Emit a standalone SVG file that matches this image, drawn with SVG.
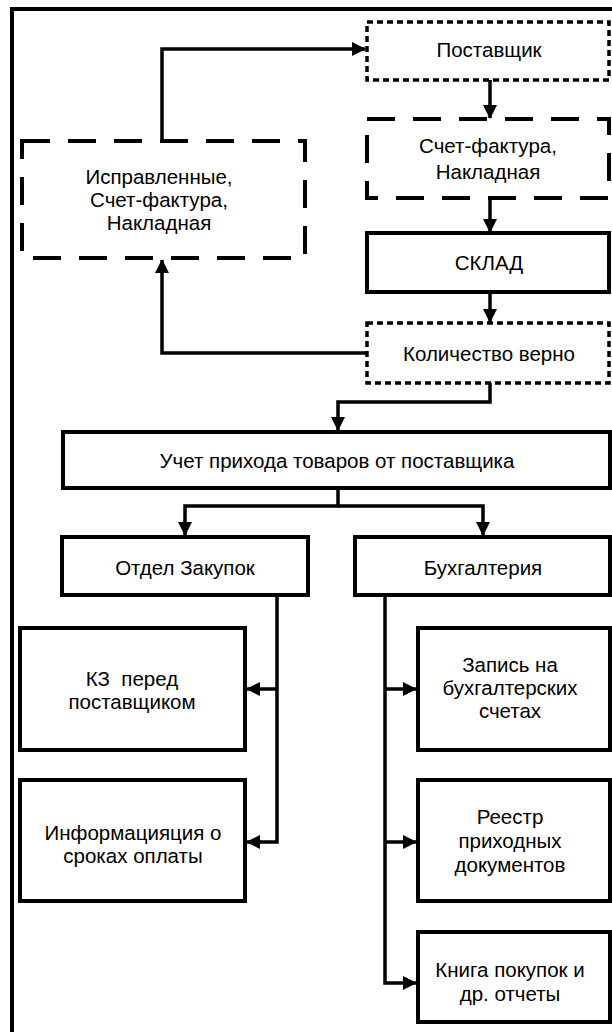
<svg xmlns="http://www.w3.org/2000/svg" width="612" height="1032" viewBox="0 0 612 1032">
<style>
text{font-family:"Liberation Sans",Arial,sans-serif;font-size:20.5px;fill:#000;text-anchor:middle;dominant-baseline:central}
.box{fill:#fff;stroke:#000;stroke-width:4}
.dot{fill:#fff;stroke:#000;stroke-width:3.5;stroke-dasharray:6 4}
.dash{fill:#fff;stroke:#000;stroke-width:4;stroke-dasharray:28 18}
.c{fill:none;stroke:#000;stroke-width:3.5}
</style>
<defs>
<marker id="ah" markerUnits="userSpaceOnUse" markerWidth="14" markerHeight="14" refX="13" refY="7" orient="auto" viewBox="0 0 14 14">
<path d="M0,0 L14,7 L0,14 z" fill="#000"/>
</marker>
</defs>
<rect width="612" height="1032" fill="#fff"/>
<path d="M12,1040 V9 H620" fill="none" stroke="#000" stroke-width="4"/>
<g id="connectors">
<path class="c" d="M162,141 V49 H365" marker-end="url(#ah)"/>
<path class="c" d="M490,80 V118" marker-end="url(#ah)"/>
<path class="c" d="M490,198 V232" marker-end="url(#ah)"/>
<path class="c" d="M490,292 V322" marker-end="url(#ah)"/>
<path class="c" d="M367,353 H162 V260" marker-end="url(#ah)"/>
<path class="c" d="M490,383 V402 H338 V430" marker-end="url(#ah)"/>
<path class="c" d="M338,488 V506 H185 V535" marker-end="url(#ah)"/>
<path class="c" d="M338,506 H483 V535" marker-end="url(#ah)"/>
<path class="c" d="M277,595 V842 H247" marker-end="url(#ah)"/>
<path class="c" d="M277,689 H247" marker-end="url(#ah)"/>
<path class="c" d="M385,595 V983 H416" marker-end="url(#ah)"/>
<path class="c" d="M385,689 H416" marker-end="url(#ah)"/>
<path class="c" d="M385,842 H416" marker-end="url(#ah)"/>
</g>
<g id="postavshik"><rect class="dot" x="367" y="22" width="242" height="58"/><text x="489" y="49">Поставщик</text></g>
<g id="schet"><rect class="dash" x="367" y="119" width="242" height="79"/><text x="488" y="145">Счет-фактура,</text><text x="488" y="171">Накладная</text></g>
<g id="ispravlennye"><rect class="dash" x="22" y="141" width="283" height="117"/><text x="159" y="176">Исправленные,</text><text x="159" y="199">Счет-фактура,</text><text x="159" y="222">Накладная</text></g>
<g id="sklad"><rect class="box" x="367" y="233" width="242" height="59"/><text x="489" y="262">СКЛАД</text></g>
<g id="kolichestvo"><rect class="dot" x="367" y="323" width="242" height="60"/><text x="489" y="353">Количество верно</text></g>
<g id="uchet"><rect class="box" x="63" y="432" width="547" height="56"/><text x="337" y="460">Учет прихода товаров от поставщика</text></g>
<g id="otdel"><rect class="box" x="62" y="537" width="246" height="58"/><text x="185" y="567">Отдел Закупок</text></g>
<g id="buh"><rect class="box" x="355" y="537" width="255" height="58"/><text x="483" y="567">Бухгалтерия</text></g>
<g id="kz"><rect class="box" x="20" y="628" width="225" height="122"/><text x="132" y="678" xml:space="preserve">КЗ  перед</text><text x="132" y="701">поставщиком</text></g>
<g id="info"><rect class="box" x="20" y="780" width="225" height="121"/><text x="133" y="832">Информацияция о</text><text x="133" y="855">сроках оплаты</text></g>
<g id="zapis"><rect class="box" x="418" y="628" width="192" height="122"/><text x="510" y="664">Запись на</text><text x="510" y="687">бухгалтерских</text><text x="510" y="710">счетах</text></g>
<g id="reestr"><rect class="box" x="418" y="780" width="192" height="121"/><text x="510" y="816">Реестр</text><text x="510" y="840">приходных</text><text x="510" y="864">документов</text></g>
<g id="kniga"><rect class="box" x="418" y="932" width="192" height="90"/><text x="510" y="969">Книга покупок и</text><text x="510" y="993">др. отчеты</text></g>
</svg>
